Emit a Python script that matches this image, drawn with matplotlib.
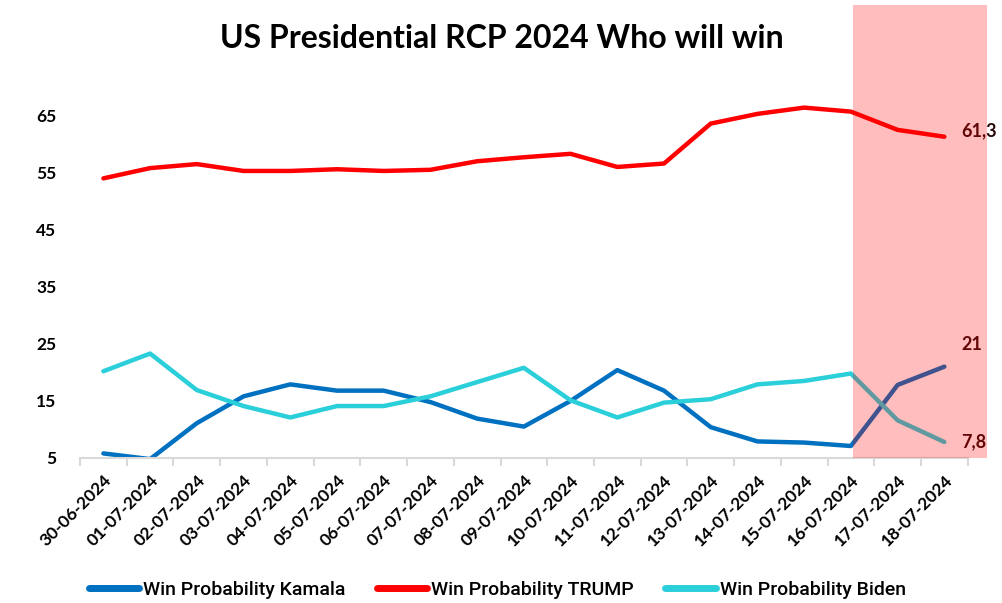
import matplotlib
matplotlib.use('Agg')
from matplotlib import pyplot as plt
from matplotlib.patches import Rectangle
import numpy as np

dates = ['30-06-2024', '01-07-2024', '02-07-2024', '03-07-2024', '04-07-2024',
         '05-07-2024', '06-07-2024', '07-07-2024', '08-07-2024', '09-07-2024',
         '10-07-2024', '11-07-2024', '12-07-2024', '13-07-2024', '14-07-2024',
         '15-07-2024', '16-07-2024', '17-07-2024', '18-07-2024']
kamala = [5.8, 4.8, 11.1, 15.8, 17.9, 16.8, 16.8, 14.8, 11.9, 10.5,
          15.0, 20.4, 16.8, 10.4, 7.9, 7.7, 7.1, 17.8, 21.0]
trump = [54.0, 55.8, 56.5, 55.3, 55.3, 55.6, 55.3, 55.5, 57.0, 57.7,
         58.3, 56.0, 56.6, 63.6, 65.3, 66.4, 65.7, 62.5, 61.3]
biden = [20.2, 23.3, 16.9, 14.1, 12.1, 14.1, 14.1, 15.8, 18.3, 20.8,
         15.1, 12.1, 14.7, 15.3, 17.9, 18.5, 19.8, 11.6, 7.8]

plt.rcParams['font.family'] = ['Lato', 'DejaVu Sans']

fig = plt.figure(figsize=(10.03, 6.03), dpi=100)
ax = fig.add_axes([0.0798, 0.2405, 0.885, 0.617])

x = np.arange(len(dates))
ax.plot(x, kamala, color='#0070C0', lw=3.2, label='Win Probability Kamala', solid_capstyle='round')
ax.plot(x, trump, color='#FF0000', lw=3.2, label='Win Probability TRUMP', solid_capstyle='round')
ax.plot(x, biden, color='#2BCFDA', lw=3.2, label='Win Probability Biden', solid_capstyle='round')

ax.set_xlim(-0.5, len(dates) - 0.5)
ax.set_ylim(5, 70.2)
ax.set_yticks([5, 15, 25, 35, 45, 55, 65])
ax.set_xticks(x)
ax.set_xticklabels(dates, rotation=45, ha='right', rotation_mode='anchor')
ax.set_xticks(np.arange(-0.5, len(dates)), minor=True)
ax.tick_params(axis='x', which='major', length=0, pad=10, labelsize=12.5)
ax.tick_params(axis='x', which='minor', length=6, color='#d9d9d9', width=1.5)
ax.tick_params(axis='y', length=0, pad=17, labelsize=12.5)
for lab in ax.get_xticklabels() + ax.get_yticklabels():
    lab.set_fontweight('bold')

for s in ['top', 'right', 'left']:
    ax.spines[s].set_visible(False)
ax.spines['bottom'].set_color('#d9d9d9')
ax.spines['bottom'].set_linewidth(1.5)

# end labels
for series, txt, dy in [(trump, '61,3', 4), (kamala, '21', 16), (biden, '7,8', 0)]:
    ax.annotate(txt, (x[-1], series[-1]), xytext=(12, dy), textcoords='offset points',
                fontsize=13, fontweight='bold', color='#2a0808', va='center')

fig.suptitle('US Presidential RCP 2024 Who will win', y=0.96, fontsize=23, fontweight='bold')

leg = ax.legend(loc='center', bbox_to_anchor=(0.47, -0.355), ncol=3, frameon=False,
                prop={'family': 'Roboto', 'weight': 'medium', 'size': 14},
                handlelength=2.6, columnspacing=1.6, handletextpad=0.2)
for h in leg.get_lines():
    h.set_linewidth(5)

# highlighted period overlay
fig.patches.append(Rectangle((0.8504, 0.2405), 0.134, 0.751, transform=fig.transFigure,
                             facecolor='red', alpha=0.26, edgecolor='none', zorder=5))

fig.savefig('out.png', dpi=100)
